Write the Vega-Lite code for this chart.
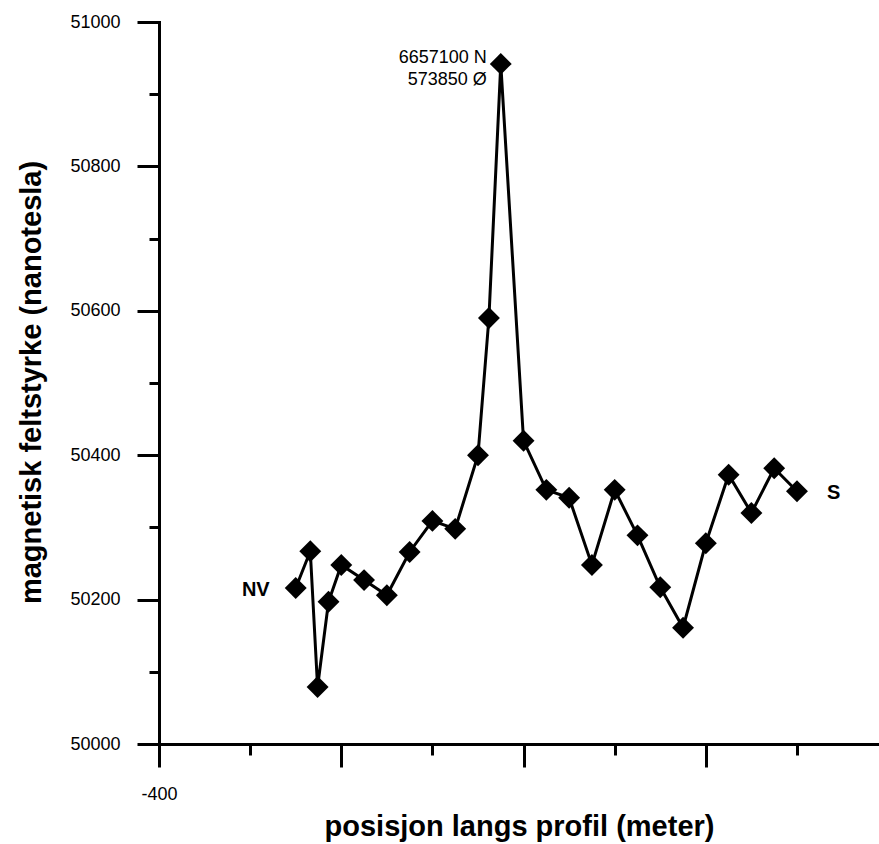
{
  "$schema": "https://vega.github.io/schema/vega-lite/v6.json",
  "width": 720,
  "height": 722,
  "autosize": {"type": "none"},
  "padding": {"left": 159, "top": 22, "right": 0, "bottom": 100},
  "background": "white",
  "config": {
    "view": {"stroke": null},
    "font": "Liberation Sans",
    "axis": {"domainWidth": 3, "tickWidth": 3, "domainColor": "black", "tickColor": "black", "labelFlush": false, "domainCap": "square", "tickCap": "butt"}
  },
  "datasets": {
    "profile": [
      {"pos": -325, "nT": 50216},
      {"pos": -317, "nT": 50267},
      {"pos": -313, "nT": 50079},
      {"pos": -307, "nT": 50197},
      {"pos": -300, "nT": 50248},
      {"pos": -287.5, "nT": 50227},
      {"pos": -275, "nT": 50206},
      {"pos": -262.5, "nT": 50266},
      {"pos": -250, "nT": 50309},
      {"pos": -237.5, "nT": 50298},
      {"pos": -225, "nT": 50400},
      {"pos": -219, "nT": 50590},
      {"pos": -212.5, "nT": 50942},
      {"pos": -200, "nT": 50420},
      {"pos": -187.5, "nT": 50352},
      {"pos": -175, "nT": 50341},
      {"pos": -162.5, "nT": 50248},
      {"pos": -150, "nT": 50352},
      {"pos": -137.5, "nT": 50289},
      {"pos": -125, "nT": 50217},
      {"pos": -112.5, "nT": 50161},
      {"pos": -100, "nT": 50278},
      {"pos": -87.5, "nT": 50373},
      {"pos": -75, "nT": 50320},
      {"pos": -62.5, "nT": 50382},
      {"pos": -50, "nT": 50350}
    ],
    "peak": [{"pos": -212.5, "nT": 50942, "label": "6657100 N|573850 Ø"}],
    "start": [{"pos": -325, "nT": 50216, "label": "NV"}],
    "end": [{"pos": -50, "nT": 50350, "label": "S"}]
  },
  "resolve": {"axis": {"x": "independent", "y": "independent"}},
  "layer": [
    {
      "data": {"name": "profile"},
      "mark": {"type": "line", "color": "black", "strokeWidth": 3},
      "encoding": {
        "x": {
          "field": "pos", "type": "quantitative",
          "scale": {"domain": [-400, -5], "nice": false, "zero": false},
          "axis": {
            "orient": "bottom",
            "values": [-400, -300, -200, -100],
            "labelExpr": "datum.value == -400 ? '-400' : ''",
            "grid": false,
            "tickSize": 23, "tickWidth": 3, "tickColor": "black",
            "domainColor": "black", "domainWidth": 3,
            "labelFont": "Liberation Sans", "labelFontSize": 18, "labelColor": "black", "labelPadding": 18,
            "labelFlush": false, "labelAlign": "center",
            "title": "posisjon langs profil (meter)",
            "titleFont": "Liberation Sans", "titleFontWeight": "bold", "titleFontSize": 29, "titleColor": "black",
            "titleX": 360, "titleY": 91, "titleBaseline": "alphabetic", "titleAlign": "center"
          }
        },
        "y": {
          "field": "nT", "type": "quantitative",
          "scale": {"domain": [50000, 51000], "nice": false, "zero": false},
          "axis": {
            "orient": "left",
            "values": [50000, 50200, 50400, 50600, 50800, 51000],
            "format": "d",
            "grid": false,
            "tickSize": 22, "tickWidth": 3, "tickColor": "black",
            "domainColor": "black", "domainWidth": 3,
            "labelFont": "Liberation Sans", "labelFontSize": 18, "labelColor": "black", "labelPadding": 17,
            "labelFlush": false,
            "title": "magnetisk feltstyrke (nanotesla)",
            "titleFont": "Liberation Sans", "titleFontWeight": "bold", "titleFontSize": 29, "titleColor": "black",
            "titleX": -119, "titleY": 360, "titleBaseline": "alphabetic", "titleAlign": "center", "titleAngle": 270
          }
        }
      }
    },
    {
      "data": {"name": "profile"},
      "mark": {"type": "point", "shape": "diamond", "size": 480, "filled": true, "color": "black", "opacity": 1},
      "encoding": {
        "x": {
          "field": "pos", "type": "quantitative",
          "axis": {
            "orient": "bottom",
            "values": [-350, -250, -150, -50],
            "labels": false, "domain": false, "grid": false,
            "tickSize": 11, "tickWidth": 3, "tickColor": "black",
            "title": null
          }
        },
        "y": {
          "field": "nT", "type": "quantitative",
          "axis": {
            "orient": "left",
            "values": [50100, 50300, 50500, 50700, 50900],
            "labels": false, "domain": false, "grid": false,
            "tickSize": 10, "tickWidth": 3, "tickColor": "black",
            "title": null
          }
        }
      }
    },
    {
      "data": {"name": "peak"},
      "mark": {"type": "text", "align": "right", "baseline": "alphabetic", "dx": -14, "dy": -1, "fontSize": 18, "lineBreak": "|", "lineHeight": 22, "color": "black", "font": "Liberation Sans"},
      "encoding": {
        "x": {"field": "pos", "type": "quantitative", "axis": null},
        "y": {"field": "nT", "type": "quantitative", "axis": null},
        "text": {"field": "label"}
      }
    },
    {
      "data": {"name": "start"},
      "mark": {"type": "text", "align": "right", "baseline": "middle", "dx": -26, "dy": 2, "fontSize": 20, "fontWeight": "bold", "color": "black", "font": "Liberation Sans"},
      "encoding": {
        "x": {"field": "pos", "type": "quantitative", "axis": null},
        "y": {"field": "nT", "type": "quantitative", "axis": null},
        "text": {"field": "label"}
      }
    },
    {
      "data": {"name": "end"},
      "mark": {"type": "text", "align": "left", "baseline": "middle", "dx": 30, "dy": 2, "fontSize": 20, "fontWeight": "bold", "color": "black", "font": "Liberation Sans"},
      "encoding": {
        "x": {"field": "pos", "type": "quantitative", "axis": null},
        "y": {"field": "nT", "type": "quantitative", "axis": null},
        "text": {"field": "label"}
      }
    }
  ]
}
